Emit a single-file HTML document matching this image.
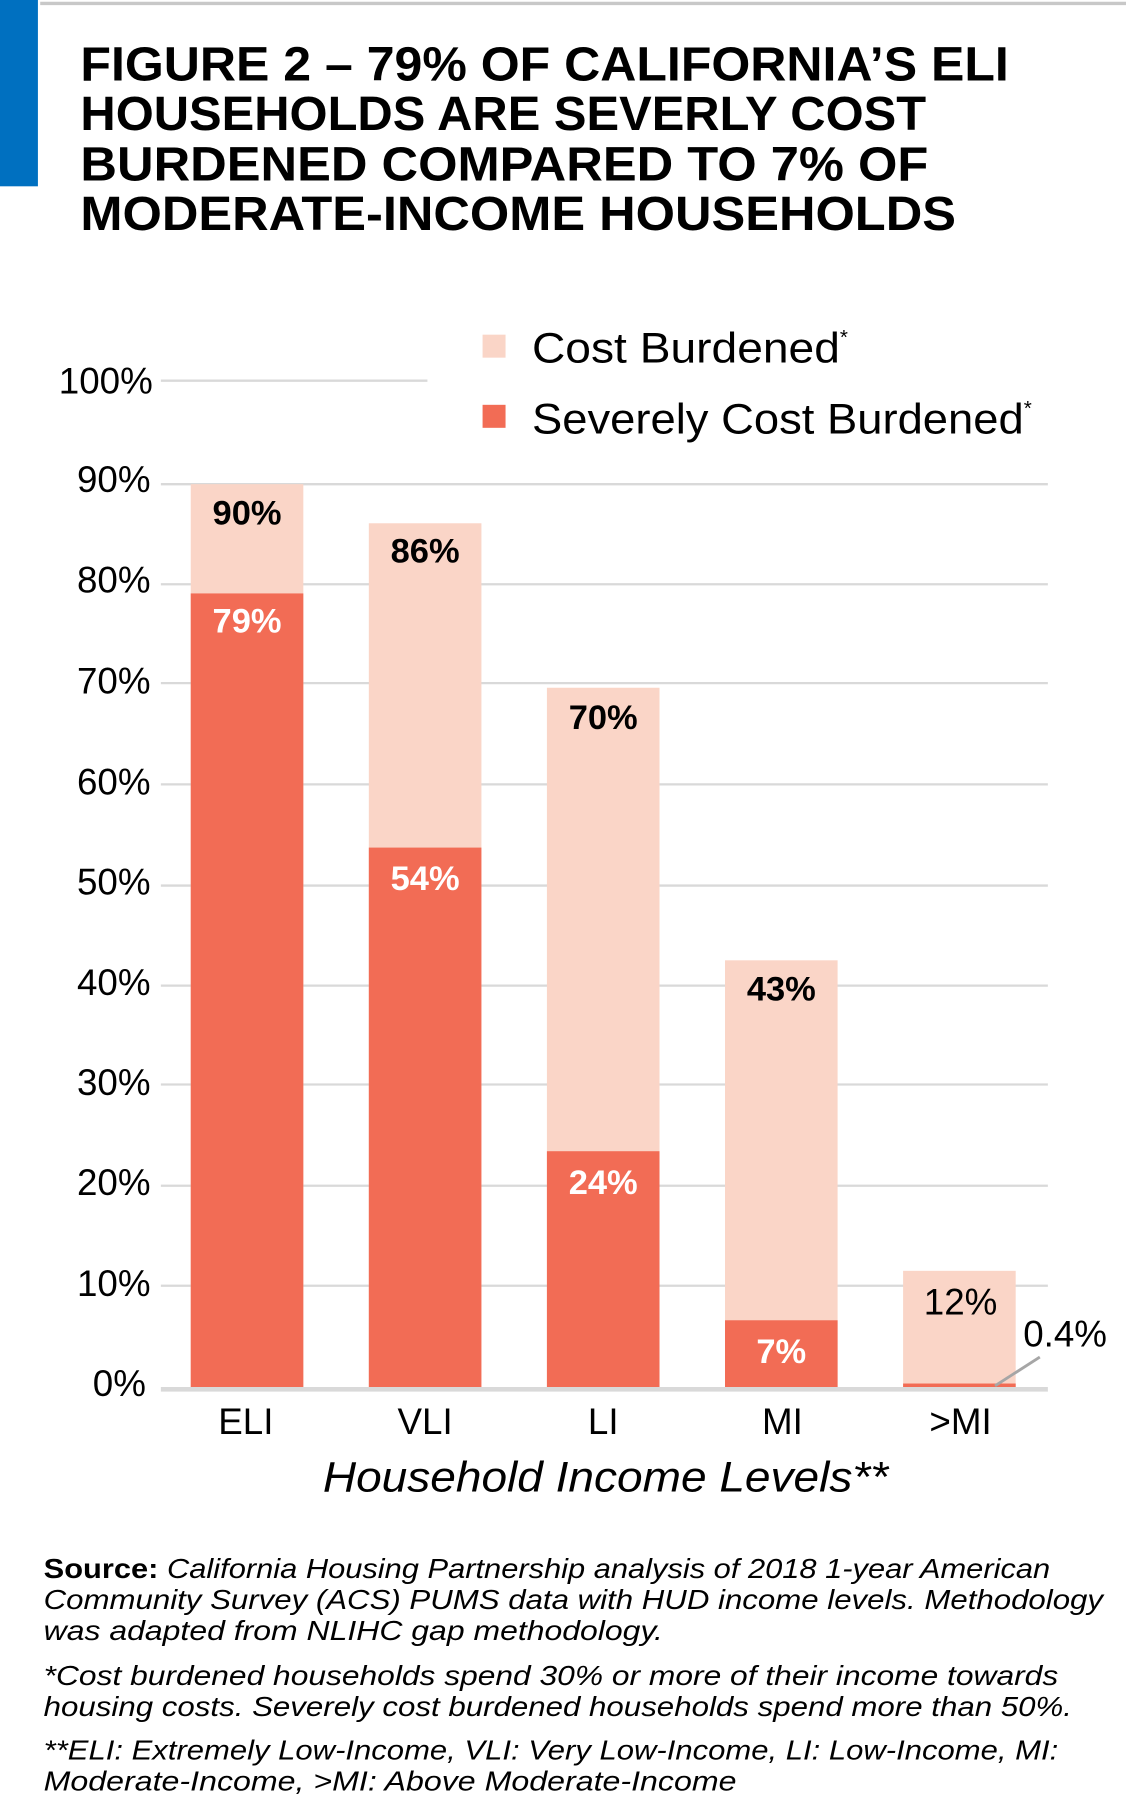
<!DOCTYPE html>
<html><head><meta charset="utf-8"><style>html,body{margin:0;padding:0;background:#fff}svg{display:block}</style></head>
<body>
<svg width="1126" height="1801" viewBox="0 0 980 1566" preserveAspectRatio="none" xmlns="http://www.w3.org/2000/svg" font-family="Liberation Sans, sans-serif">
<rect x="0" y="0" width="980" height="1566" fill="#fff"/>
<line x1="35" y1="3" x2="980" y2="3" stroke="#c8c8c8" stroke-width="3"/>
<rect x="0" y="0" width="33" height="162" fill="#0070C0"/>
<g font-weight="bold" font-size="42" fill="#000">
<text x="70" y="70" textLength="808" lengthAdjust="spacingAndGlyphs">FIGURE 2 – 79% OF CALIFORNIA’S ELI</text>
<text x="70" y="113" textLength="736" lengthAdjust="spacingAndGlyphs">HOUSEHOLDS ARE SEVERLY COST</text>
<text x="70" y="157" textLength="738" lengthAdjust="spacingAndGlyphs">BURDENED COMPARED TO 7% OF</text>
<text x="70" y="200" textLength="762" lengthAdjust="spacingAndGlyphs">MODERATE-INCOME HOUSEHOLDS</text>
</g>
<!-- legend -->
<rect x="420" y="291" width="20" height="20" fill="#FAD5C7"/>
<rect x="420" y="352" width="20" height="20" fill="#F26C55"/>
<g font-size="37" fill="#000">
<text x="463" y="315"><tspan textLength="268" lengthAdjust="spacingAndGlyphs">Cost Burdened</tspan><tspan font-size="18" dy="-16">*</tspan></text>
<text x="463" y="377"><tspan textLength="428" lengthAdjust="spacingAndGlyphs">Severely Cost Burdened</tspan><tspan font-size="18" dy="-16">*</tspan></text>
</g>
<!-- grid -->
<g stroke="#d9d9d9" stroke-width="2">
<line x1="140" y1="331" x2="372" y2="331"/>
<line x1="140" y1="421" x2="912" y2="421"/>
<line x1="140" y1="508" x2="912" y2="508"/>
<line x1="140" y1="594" x2="912" y2="594"/>
<line x1="140" y1="682" x2="912" y2="682"/>
<line x1="140" y1="770" x2="912" y2="770"/>
<line x1="140" y1="857" x2="912" y2="857"/>
<line x1="140" y1="943" x2="912" y2="943"/>
<line x1="140" y1="1031" x2="912" y2="1031"/>
<line x1="140" y1="1118" x2="912" y2="1118"/>
</g>
<g font-size="32" fill="#000" text-anchor="end">
<text x="133" y="342">100%</text>
<text x="131" y="428">90%</text>
<text x="131" y="515">80%</text>
<text x="131" y="603">70%</text>
<text x="131" y="691">60%</text>
<text x="131" y="778">50%</text>
<text x="131" y="865">40%</text>
<text x="131" y="952">30%</text>
<text x="131" y="1039">20%</text>
<text x="131" y="1127">10%</text>
<text x="127" y="1214">0%</text>
</g>
<!-- bars -->
<rect x="166" y="421" width="98" height="786" fill="#FAD5C7"/>
<rect x="166" y="516" width="98" height="691" fill="#F26C55"/>
<rect x="321" y="455" width="98" height="752" fill="#FAD5C7"/>
<rect x="321" y="737" width="98" height="470" fill="#F26C55"/>
<rect x="476" y="598" width="98" height="609" fill="#FAD5C7"/>
<rect x="476" y="1001" width="98" height="206" fill="#F26C55"/>
<rect x="631" y="835" width="98" height="372" fill="#FAD5C7"/>
<rect x="631" y="1148" width="98" height="59" fill="#F26C55"/>
<rect x="786" y="1105" width="98" height="102" fill="#FAD5C7"/>
<rect x="786" y="1203" width="98" height="4" fill="#F26C55"/>
<line x1="140" y1="1208" x2="912" y2="1208" stroke="#d9d9d9" stroke-width="4"/>
<line x1="866" y1="1205" x2="905" y2="1180" stroke="#a6a6a6" stroke-width="2.5"/>
<g font-size="30" text-anchor="middle" font-weight="bold">
<text x="215" y="456" fill="#000">90%</text>
<text x="215" y="550" fill="#fff">79%</text>
<text x="370" y="489" fill="#000">86%</text>
<text x="370" y="774" fill="#fff">54%</text>
<text x="525" y="634" fill="#000">70%</text>
<text x="525" y="1038" fill="#fff">24%</text>
<text x="680" y="870" fill="#000">43%</text>
<text x="680" y="1185" fill="#fff">7%</text>
</g>
<g font-size="32" text-anchor="middle" fill="#000">
<text x="836" y="1143">12%</text>
<text x="927" y="1171">0.4%</text>
<text x="214" y="1247">ELI</text>
<text x="370" y="1247">VLI</text>
<text x="525" y="1247">LI</text>
<text x="681" y="1247">MI</text>
<text x="836" y="1247">&gt;MI</text>
</g>
<text x="527" y="1297" font-size="37" font-style="italic" text-anchor="middle" textLength="492" lengthAdjust="spacingAndGlyphs">Household Income Levels**</text>
<g font-size="24" font-style="italic" fill="#000">
<text x="38" y="1372" textLength="876" lengthAdjust="spacingAndGlyphs"><tspan font-weight="bold" font-style="normal">Source:</tspan> California Housing Partnership analysis of 2018 1-year American</text>
<text x="38" y="1399" textLength="922" lengthAdjust="spacingAndGlyphs">Community Survey (ACS) PUMS data with HUD income levels. Methodology</text>
<text x="38" y="1426" textLength="539" lengthAdjust="spacingAndGlyphs">was adapted from NLIHC gap methodology.</text>
<text x="38" y="1465" textLength="883" lengthAdjust="spacingAndGlyphs">*Cost burdened households spend 30% or more of their income towards</text>
<text x="38" y="1492" textLength="895" lengthAdjust="spacingAndGlyphs">housing costs. Severely cost burdened households spend more than 50%.</text>
<text x="38" y="1530" textLength="883" lengthAdjust="spacingAndGlyphs">**ELI: Extremely Low-Income, VLI: Very Low-Income, LI: Low-Income, MI:</text>
<text x="38" y="1557" textLength="603" lengthAdjust="spacingAndGlyphs">Moderate-Income, &gt;MI: Above Moderate-Income</text>
</g>
</svg>
</body></html>
